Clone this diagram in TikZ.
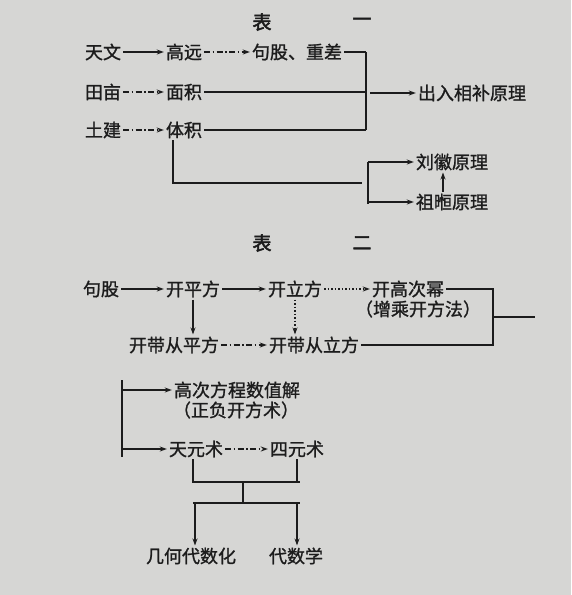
\documentclass[tikz,border=0pt]{standalone}
\usepackage{fontspec}
\newfontfamily\cjk[FakeBold=1.2]{Noto Sans CJK SC}
\newfontfamily\cjkb[FakeBold=2.5]{Noto Sans CJK SC}
\usetikzlibrary{arrows.meta,calc}
\definecolor{bg}{RGB}{214,214,212}
\definecolor{ink}{RGB}{28,28,28}
\begin{document}
\begin{tikzpicture}[x=1pt,y=-1pt,
  lbl/.style={font=\cjk\fontsize{18}{20}\selectfont, text=ink, inner sep=2pt},
  ttl/.style={font=\cjkb\fontsize{19}{20}\selectfont, text=ink, inner sep=2pt},
  ln/.style={draw=ink, line width=1.1pt},
  arr/.style={ln, -{Stealth[length=7pt,width=5pt]}},
  dsh/.style={dash pattern=on 6pt off 2.5pt on 1.5pt off 2.5pt},
  dotl/.style={dash pattern=on 1.5pt off 2pt}]
\fill[bg] (0,0) rectangle (571,595);
\useasboundingbox (0,0) rectangle (571,595);

% ---------- Table 1 ----------
\node[ttl] (t1a) at (262,22) {表};
\node[ttl] (t1b) at (362,22) {一};

\node[lbl] (tw)  at (103,52)  {天文};
\node[lbl] (gy)  at (184,52)  {高远};
\node[lbl] (gg)  at (297,52)  {句股、重差};
\node[lbl] (tm)  at (103,92)  {田亩};
\node[lbl] (mj)  at (184,92)  {面积};
\node[lbl] (tj)  at (103,130) {土建};
\node[lbl] (tjj) at (184,130) {体积};
\node[lbl] (crbl) at (472,93) {出入相补原理};
\node[lbl] (lh)  at (452,162) {刘徽原理};
\node[lbl] (zg)  at (452,202) {祖暅原理};

\coordinate (J1t) at (366,52);
\coordinate (J1b) at (366,130);
\coordinate (J1a) at (370,93);
\draw[arr] (tw.east) -- (gy.west);
\draw[arr,dsh] (gy.east) -- (gg.west);
\draw[arr,dsh] (tm.east) -- (mj.west);
\draw[arr,dsh] (tj.east) -- (tjj.west);
\draw[ln] (gg.east) -- (gg.east -| J1t);
\draw[ln] (mj.east) -- (mj.east -| J1t);
\draw[ln] (tjj.east) -- (tjj.east -| J1t);
\draw[ln] (J1t) -- (J1b);
\draw[arr] (J1a) -- (crbl.west);

\coordinate (L1) at (173,183);
\coordinate (L2) at (362,183);
\coordinate (J2t) at (368,162);
\coordinate (J2b) at (368,204);
\draw[ln] (tjj.south -| L1) -- (L1) -- (L2);
\draw[ln] (J2t) -- (J2b);
\draw[arr] (J2t) -- (lh.west);
\draw[arr] (lh.west -| J2t) ++(0,40) -- (zg.west);
\draw[arr] ([xshift=-9pt]zg.north) -- ([xshift=-9pt]lh.south);

% ---------- Table 2 ----------
\node[ttl] (t2a) at (262,243) {表};
\node[ttl] (t2b) at (362,243) {二};

\node[lbl] (gg2)  at (101,289) {句股};
\node[lbl] (kpf)  at (193,289) {开平方};
\node[lbl] (klf)  at (295,289) {开立方};
\node[lbl] (kgcm) at (408,289) {开高次幂};
\node[lbl] (zck)  at (418,309) {（增乘开方法）};
\node[lbl] (kdpf) at (174,345) {开带从平方};
\node[lbl] (kdlf) at (314,345) {开带从立方};

\coordinate (R1) at (493,289);
\coordinate (R2) at (493,345);
\coordinate (R3) at (493,317);
\coordinate (R4) at (535,317);
\draw[arr] (gg2.east) -- (kpf.west);
\draw[arr] (kpf.east) -- (klf.west);
\draw[arr,dotl] (klf.east) -- (kgcm.west);
\draw[ln] (kgcm.east) -- (R1) -- (R2) -- (kdlf.east);
\draw[ln] (R3) -- (R4);
\draw[arr,dsh] (kdpf.east) -- (kdlf.west);
\draw[arr] (kpf.south) -- (kdpf.north -| kpf.south);
\draw[arr,dotl] (klf.south) -- (kdlf.north -| klf.south);

% ---------- Part 3 ----------
\node[lbl] (gcfc)  at (237,390) {高次方程数值解};
\node[lbl] (zfkf)  at (236,410) {（正负开方术）};
\node[lbl] (tys)   at (196,449) {天元术};
\node[lbl] (sys)   at (297,449) {四元术};
\node[lbl] (jhds)  at (191,556) {几何代数化};
\node[lbl] (dsx)   at (296,556) {代数学};

\coordinate (V3t) at (122,380);
\coordinate (V3b) at (122,457);
\draw[ln] (V3t) -- (V3b);
\draw[arr] (gcfc.west -| V3t) -- (gcfc.west);
\draw[arr] (tys.west -| V3t) -- (tys.west);
\draw[arr,dsh] (tys.east) -- (sys.west);

\coordinate (B1) at (193,482);
\coordinate (B2) at (297,482);
\coordinate (B3) at (300,482);
\coordinate (M1) at (243,482);
\coordinate (M2) at (243,503);
\coordinate (C1) at (193,503);
\coordinate (C2) at (300,503);
\coordinate (D1) at (195,503);
\coordinate (D2) at (297,503);
\draw[ln] (tys.south -| B1) -- (B1) -- (B3);
\draw[ln] (sys.south -| B2) -- (B2);
\draw[ln] (M1) -- (M2);
\draw[ln] (C1) -- (C2);
\draw[arr] (D1) -- (D1 |- jhds.north);
\draw[arr] (D2) -- (D2 |- dsx.north);
\end{tikzpicture}
\end{document}
